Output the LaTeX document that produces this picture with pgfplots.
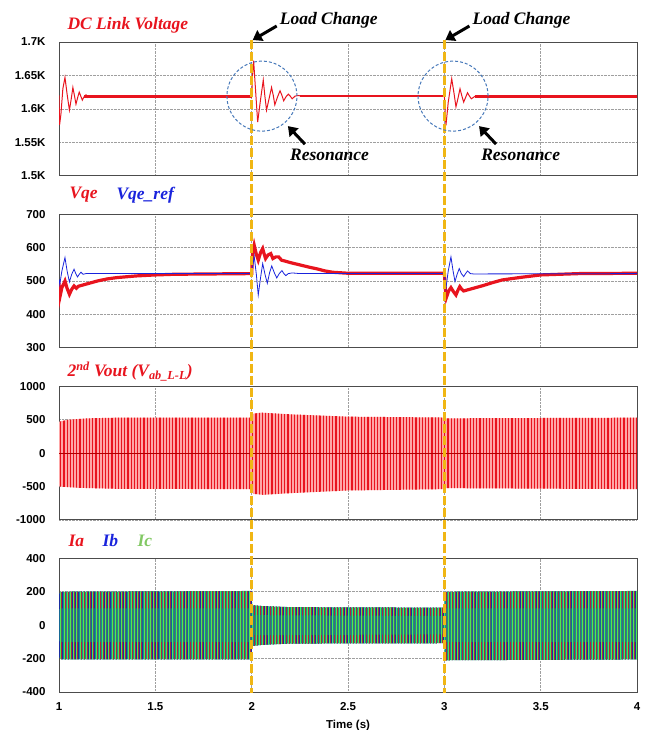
\documentclass[border=0pt]{standalone}
\usepackage{fontspec}
\setmainfont{Liberation Sans}
\newfontfamily\tnr{Liberation Serif}
\usepackage{pgfplots}
\pgfplotsset{compat=1.18}
\usepackage{pgfplotstable}
\usepgfplotslibrary{groupplots}
\usetikzlibrary{arrows.meta, patterns.meta, calc}

\definecolor{ylw}{RGB}{240,182,20}
\definecolor{circ}{RGB}{70,120,185}
\definecolor{vred}{RGB}{232,20,30}
\definecolor{vblue}{RGB}{25,35,220}
\definecolor{icg}{RGB}{130,200,100}
\definecolor{iteal}{RGB}{20,145,140}
\definecolor{idark}{RGB}{25,45,160}
\definecolor{igrn}{RGB}{80,235,80}
\definecolor{ired}{RGB}{170,40,60}

\newcommand{\ttl}{\tnr\bfseries\itshape\fontsize{17.5}{20}\selectfont}

% DC link voltage (V)
\pgfplotstableread{
t v
1.000 1620
1.003 1576
1.010 1592
1.020 1630
1.031 1647
1.042 1622
1.054 1598
1.063 1614
1.072 1632
1.080 1620
1.088 1607
1.097 1617
1.105 1625
1.113 1619
1.121 1613
1.130 1618
1.140 1621
1.150 1617
1.160 1618
2.000 1618
2.004 1650
2.010 1672
2.020 1628
2.031 1580
2.045 1612
2.060 1643
2.068 1620
2.077 1598
2.090 1615
2.103 1632
2.112 1620
2.120 1606
2.133 1617
2.147 1627
2.157 1620
2.166 1612
2.178 1618
2.190 1622
2.200 1619
2.210 1615
2.225 1619
2.240 1620
2.260 1619
3.000 1619
3.003 1600
3.008 1575
3.020 1610
3.038 1645
3.049 1625
3.060 1603
3.070 1615
3.081 1630
3.090 1620
3.100 1610
3.110 1617
3.120 1624
3.130 1619
3.140 1615
3.160 1619
3.180 1618
4.000 1618
}\vdc

% Vqe (measured)
\pgfplotstableread{
t v
1.000 495
1.004 450
1.015 480
1.031 500
1.042 478
1.054 460
1.066 475
1.078 485
1.090 478
1.100 484
1.150 492
1.200 500
1.250 506
1.300 510
1.400 515
1.500 518
1.600 520
1.800 521
2.000 522
2.004 580
2.013 607
2.024 580
2.034 562
2.046 585
2.057 597
2.065 580
2.072 567
2.085 578
2.099 582
2.110 567
2.125 572
2.140 572
2.155 562
2.170 560
2.200 555
2.250 548
2.300 541
2.340 536
2.380 530
2.420 526
2.500 523
3.000 523
3.004 480
3.010 450
3.022 470
3.034 480
3.047 468
3.060 458
3.070 472
3.080 483
3.090 475
3.100 470
3.150 478
3.200 486
3.250 495
3.300 503
3.350 507
3.400 511
3.500 518
3.600 520
3.700 522
4.000 523
}\vqe

% Vqe_ref
\pgfplotstableread{
t v
1.000 505
1.004 490
1.015 530
1.031 570
1.042 530
1.054 497
1.066 520
1.078 535
1.087 522
1.096 512
1.105 520
1.114 526
1.125 520
1.140 522
2.000 522
2.002 530
2.013 574
2.024 520
2.034 458
2.046 510
2.057 552
2.069 520
2.081 493
2.093 525
2.104 545
2.117 525
2.130 509
2.143 522
2.157 531
2.167 522
2.177 516
2.190 522
2.210 524
2.250 522
3.000 522
3.004 500
3.008 478
3.020 530
3.034 572
3.045 530
3.055 498
3.066 520
3.077 537
3.088 522
3.100 513
3.110 522
3.120 530
3.135 522
3.150 521
4.000 522
}\vref

% envelope of the line-to-line output voltage
\pgfplotstableread{
t v
1.000 470
1.050 500
1.150 520
1.300 530
2.000 530
2.008 590
2.050 605
2.200 580
2.500 545
3.000 532
3.008 520
4.000 530
4.000 -540
3.008 -525
3.000 -540
2.500 -560
2.200 -600
2.060 -625
2.008 -610
2.000 -540
1.300 -535
1.100 -520
1.000 -500
}\vout

% envelope of the phase currents
\pgfplotstableread{
t v
1.000 185
1.010 200
2.000 205
2.002 120
2.050 115
2.200 108
3.000 105
3.004 200
4.000 205
4.000 -205
3.004 -210
3.000 -108
2.200 -110
2.050 -118
2.002 -125
2.000 -205
1.010 -205
1.000 -190
}\iabc

% inner band of the phase currents
\pgfplotstableread{
t v
1.000 95
1.010 100
2.000 100
2.002 60
3.000 55
3.004 100
4.000 100
4.000 -100
3.004 -100
3.000 -55
2.002 -60
2.000 -100
1.010 -100
1.000 -95
}\iinner

\begin{document}
\begin{tikzpicture}
\begin{groupplot}[
    group style={group size=1 by 4, vertical sep=38.5pt, xticklabels at=edge bottom},
    scale only axis, width=578pt, height=133.6pt,
    xmin=1, xmax=4,
    xtick={1,1.5,2,2.5,3,3.5,4},
    xticklabels={1,1.5,2,2.5,3,3.5,4},
    grid=major,
    major grid style={gray!75, densely dotted, line width=0.6pt},
    major tick length=0pt,
    axis line style={black!70, line width=0.9pt},
    ticklabel style={font=\fontsize{11.5}{13}\selectfont\bfseries},
    yticklabel style={xshift=-10pt},
    xticklabel style={yshift=-7pt},
  ]
  \nextgroupplot[ymin=1500, ymax=1700, ytick={1500,1550,...,1700},
    yticklabels={1.5K,1.55K,1.6K,1.65K,1.7K}]
  \addplot[vred, line width=1pt] table {\vdc};
  \addplot[vred, line width=3pt] coordinates {(1.13,1618) (2.0,1618)};
  \addplot[vred, line width=1.6pt] coordinates {(2.25,1619) (3.0,1619)};
  \addplot[vred, line width=3pt] coordinates {(3.16,1618) (4.0,1618)};
  \coordinate (t2) at (axis cs:2,1700);
  \coordinate (t3) at (axis cs:3,1700);
  \coordinate (c2) at (axis cs:2.053,1619);
  \coordinate (c3) at (axis cs:3.045,1619);

  \nextgroupplot[ymin=300, ymax=700, ytick={300,400,...,700},
    yticklabels={300,400,500,600,700}]
  \addplot[vred, line width=3.2pt] table {\vqe};
  \addplot[vblue, line width=0.8pt] table {\vref};

  \nextgroupplot[ymin=-1000, ymax=1000, ytick={-1000,-500,0,500,1000},
    yticklabels={-1000,-500,0,500,1000}]
  \addplot[draw=none, fill=red!35] table {\vout};
  \addplot[draw=none, pattern={Lines[angle=90, distance=3.2pt, line width=1.2pt]},
    pattern color=vred] table {\vout};
  \addplot[red!70!black, line width=0.4pt] coordinates {(1,0) (4,0)};

  \nextgroupplot[ymin=-400, ymax=400, ytick={-400,-200,0,200,400},
    yticklabels={-400,-200,0,200,400},
    xlabel={Time (s)},
    xlabel style={font=\fontsize{11.5}{13}\selectfont\bfseries, yshift=-3pt}]
  \addplot[draw=none, fill=iteal] table {\iabc};
  \addplot[draw=none, pattern={Lines[angle=90, distance=3.2pt, line width=0.8pt, xshift=1.6pt]},
    pattern color=idark] table {\iabc};
  \addplot[draw=none, pattern={Lines[angle=90, distance=3.2pt, line width=0.25pt, xshift=0.8pt]},
    pattern color=ired] table {\iabc};
  \addplot[draw=none, fill=iteal, fill opacity=0.6] table {\iinner};
  \addplot[draw=none, pattern={Lines[angle=90, distance=3.2pt, line width=0.8pt]},
    pattern color=igrn] table {\iabc};
  \coordinate (b2) at (axis cs:2,-400);
  \coordinate (b3) at (axis cs:3,-400);
\end{groupplot}

% panel titles
\node[anchor=west, text=vred] at ([xshift=5pt, yshift=17pt]group c1r1.north west) {\ttl DC Link Voltage};
\node[anchor=west, text=vred] at ([xshift=7pt, yshift=19pt]group c1r2.north west) {\ttl Vqe};
\node[anchor=west, text=vblue] at ([xshift=54pt, yshift=19pt]group c1r2.north west) {\ttl Vqe\_ref};
\node[anchor=west, text=vred] at ([xshift=5pt, yshift=15pt]group c1r3.north west)
  {\ttl 2\textsuperscript{nd} Vout (V\textsubscript{ab\_L-L})};
\node[anchor=west, text=vred] at ([xshift=6pt, yshift=18pt]group c1r4.north west) {\ttl Ia};
\node[anchor=west, text=vblue] at ([xshift=40pt, yshift=18pt]group c1r4.north west) {\ttl Ib};
\node[anchor=west, text=icg] at ([xshift=75pt, yshift=18pt]group c1r4.north west) {\ttl Ic};

% load change markers
\draw[ylw, line width=3pt, dash pattern=on 9pt off 3pt] ([yshift=2pt]t2) -- ([yshift=-1pt]b2);
\draw[ylw, line width=3pt, dash pattern=on 9pt off 3pt] ([yshift=2pt]t3) -- ([yshift=-1pt]b3);
\foreach \p in {t2,t3} {
  \draw[black, line width=3pt, -{Triangle[width=12pt,length=9pt]}]
    ([shift={(25pt,16pt)}]\p) -- ([shift={(1pt,2pt)}]\p);
  \node[anchor=west, inner sep=0pt] at ([shift={(28pt,22pt)}]\p) {\ttl Load Change};
}
% resonance circles
\foreach \p in {c2,c3} {
  \draw[circ, line width=1pt, dash pattern=on 3pt off 2pt] (\p) circle (35pt);
  \draw[black, line width=3pt, -{Triangle[width=12pt,length=9pt]}]
    ([shift={(43pt,-48pt)}]\p) -- ([shift={(26pt,-30pt)}]\p);
  \node[anchor=west, inner sep=0pt] at ([shift={(28pt,-59pt)}]\p) {\ttl Resonance};
}

\pgfresetboundingbox
\path[use as bounding box] ([shift={(-59pt,42pt)}]group c1r1.north west)
  rectangle ([shift={(8pt,-38pt)}]group c1r4.south east);
\end{tikzpicture}
\end{document}
